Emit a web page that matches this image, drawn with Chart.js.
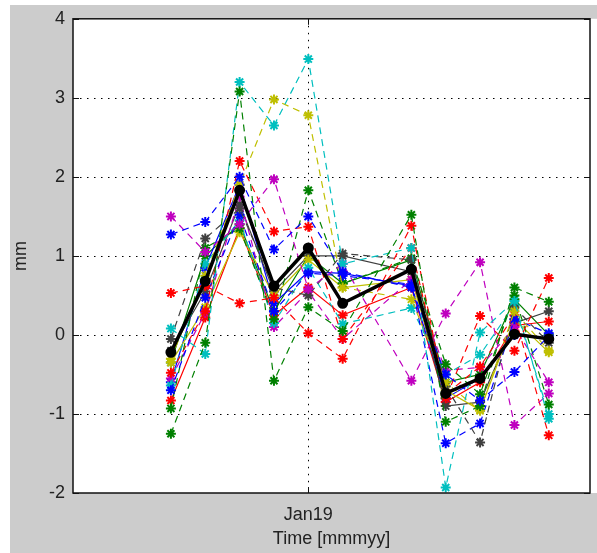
<!DOCTYPE html>
<html>
<head>
<meta charset="utf-8">
<title>mm vs time</title>
<script src="https://cdn.jsdelivr.net/npm/chart.js@4.4.1/dist/chart.umd.min.js"></script>
<style>
    body { margin: 0; background: #ffffff; }
    canvas { display: block; }
</style>
</head>
<body>
<canvas id="grafico" width="597" height="553"></canvas>
<script>
// months relative to Jan19 (one survey missing in between)
const meses = [-4, -3, -2, -1, 0, 1, 3, 4, 5, 6, 7];
const etiquetasX = { 0: 'Jan19' };
const ticksY = [-2, -1, 0, 1, 2, 3, 4];

// colour order of the old plotting tool
const colores = ['#0000ff', '#008000', '#ff0000', '#00bfbf', '#bf00bf', '#bfbf00', '#404040'];

const serie1  = [1.27, 1.43, 2.0, 1.08, 1.5, 0.8, 0.6, -0.5, -0.83, -0.47, -0.01];
const serie2  = [-1.25, -0.1, 3.08, -0.58, 0.35, 0.05, 1.52, -1.1, -0.9, 0.6, 0.42];
const serie3  = [0.53, 0.62, 0.4, 0.47, 0.02, -0.3, 1.38, -0.8, 0.24, -0.2, 0.72];
const serie4  = [0.08, -0.24, 3.2, 2.65, 3.49, 0.9, 1.1, -1.93, 0.03, 0.43, -1.06];
const serie5  = [1.5, 1.05, 1.4, 1.97, 0.58, 0.9, -0.58, 0.27, 0.92, -1.14, -0.74];
const serie6  = [-0.3, 0.75, 1.9, 2.98, 2.78, 0.6, 0.45, -0.6, -0.96, 0.3, -0.2];
const serie7  = [-0.05, 1.22, 1.6, 0.6, 0.5, 1.03, 0.95, -0.65, -1.36, 0.35, -0.1];
const serie8  = [-0.7, 0.47, 1.52, 0.3, 0.78, 0.75, 0.64, -1.37, -1.12, 0.2, 0.02];
const serie9  = [-0.93, 1.1, 1.35, 0.2, 1.83, 0.65, 0.97, -0.37, -0.75, 0.5, -0.88];
const serie10 = [-0.48, 0.3, 2.2, 1.31, 1.37, -0.05, 1.1, -0.75, -0.4, 0.25, -1.27];
const serie11 = [-0.64, 0.9, 1.45, 0.15, 0.85, 0.14, 0.34, -0.5, -0.25, 0.38, -1.0];
const serie12 = [-0.55, 0.28, 1.75, 0.1, 0.55, -0.05, 0.7, -0.45, -0.41, 0.1, -0.6];
const serie13 = [-0.35, 0.35, 1.3, 0.5, 0.95, 0.6, 0.7, -0.7, -0.95, 0.2, -0.22];
const serie14 = [-0.2, 0.55, 1.65, 0.55, 1.0, 1.0, 0.8, -0.9, -0.85, 0.15, 0.3];
const serie15 = [-0.6, 0.85, 1.9, 0.4, 0.8, 0.78, 0.62, -0.8, -0.55, 0.0, -0.05];
const serie16 = [-0.35, 1.0, 1.4, 0.3, 1.0, 0.65, 0.95, -0.6, -0.5, 0.45, 0.0];
const serie17 = [-0.83, 0.22, 1.35, 0.25, 0.6, 0.25, 0.6, -0.85, -0.6, 0.12, 0.17];
const promedio = [-0.22, 0.68, 1.83, 0.62, 1.1, 0.4, 0.83, -0.74, -0.55, 0.01, -0.05];

const series = [serie1, serie2, serie3, serie4, serie5, serie6, serie7, serie8, serie9,
                serie10, serie11, serie12, serie13, serie14, serie15, serie16, serie17];

document.addEventListener('DOMContentLoaded', function() {
    const ctx = document.getElementById('grafico').getContext('2d');

    const datasets = [];
    // black mean line on top
    datasets.push({
        data: meses.map((m, i) => ({ x: m, y: promedio[i] })),
        borderColor: '#000000',
        backgroundColor: '#000000',
        borderWidth: 3.5,
        pointStyle: 'circle',
        pointRadius: 4.5,
        pointBorderWidth: 2,
        order: 0
    });
    series.forEach(function(s, k) {
        const c = colores[k % colores.length];
        datasets.push({
            data: meses.map((m, i) => ({ x: m, y: s[i] })),
            borderColor: c,
            backgroundColor: c,
            borderWidth: 1.2,
            borderDash: k < 12 ? [7, 5] : [], // last ones drawn solid
            pointStyle: 'star',
            pointRadius: 5,
            pointBorderWidth: 2,
            order: 1
        });
    });

    // gray figure background, white axes, dotted grid, box with inner ticks
    const fondo = {
        id: 'fondo',
        beforeDraw(chart) {
            const c = chart.ctx;
            const a = chart.chartArea;
            c.save();
            c.fillStyle = '#ffffff';
            c.fillRect(0, 0, chart.width, chart.height);
            c.fillStyle = '#cccccc';
            c.fillRect(10, 5, chart.width - 10, chart.height - 5);
            c.fillStyle = '#ffffff';
            c.fillRect(a.left, a.top, chart.width - a.left, a.bottom - a.top);
            c.restore();
        },
        beforeDatasetsDraw(chart) {
            const c = chart.ctx;
            const a = chart.chartArea;
            const x = chart.scales.x;
            const y = chart.scales.y;
            c.save();
            c.strokeStyle = '#000000';
            c.lineWidth = 1;
            c.setLineDash([1.5, 5.5]);
            ticksY.forEach(function(v) {
                const py = Math.round(y.getPixelForValue(v)) + 0.5;
                if (py <= a.top + 1 || py >= a.bottom - 1) return;
                c.beginPath();
                c.moveTo(a.left, py);
                c.lineTo(a.right, py);
                c.stroke();
            });
            Object.keys(etiquetasX).forEach(function(v) {
                const px = Math.round(x.getPixelForValue(Number(v))) + 0.5;
                c.beginPath();
                c.moveTo(px, a.top);
                c.lineTo(px, a.bottom);
                c.stroke();
            });
            c.restore();
        },
        afterDraw(chart) {
            const c = chart.ctx;
            const a = chart.chartArea;
            const x = chart.scales.x;
            const y = chart.scales.y;
            c.save();
            c.strokeStyle = '#111111';
            c.lineWidth = 1.5;
            c.strokeRect(a.left, a.top, a.right - a.left, a.bottom - a.top);
            c.lineWidth = 1;
            c.beginPath();
            ticksY.forEach(function(v) {
                const py = Math.round(y.getPixelForValue(v)) + 0.5;
                c.moveTo(a.left, py); c.lineTo(a.left + 6, py);
                c.moveTo(a.right, py); c.lineTo(a.right - 6, py);
            });
            Object.keys(etiquetasX).forEach(function(v) {
                const px = Math.round(x.getPixelForValue(Number(v))) + 0.5;
                c.moveTo(px, a.bottom); c.lineTo(px, a.bottom - 6);
                c.moveTo(px, a.top); c.lineTo(px, a.top + 6);
            });
            c.stroke();
            c.restore();
        }
    };

    new Chart(ctx, {
        type: 'line',
        data: { datasets: datasets },
        plugins: [fondo],
        options: {
            responsive: false,
            animation: false,
            layout: { padding: { left: 0, right: 2, top: 16, bottom: 0 } },
            plugins: {
                legend: { display: false },
                tooltip: { enabled: false }
            },
            scales: {
                x: {
                    type: 'linear',
                    min: -6.85,
                    max: 8.2,
                    grid: { display: false, drawTicks: false },
                    border: { display: false },
                    afterBuildTicks: function(scale) {
                        scale.ticks = Object.keys(etiquetasX).map(v => ({ value: Number(v) }));
                    },
                    afterFit: function(scale) { scale.height = 60; },
                    ticks: {
                        color: '#222222',
                        font: { family: 'Liberation Sans', size: 18 },
                        padding: 11,
                        maxRotation: 0,
                        callback: function(v) { return etiquetasX[v] || ''; }
                    },
                    title: {
                        display: true,
                        text: 'Time [mmmyy]',
                        color: '#222222',
                        font: { family: 'Liberation Sans', size: 18 },
                        padding: { top: 0, bottom: 3 }
                    }
                },
                y: {
                    min: -2,
                    max: 4,
                    grid: { display: false, drawTicks: false },
                    border: { display: false },
                    afterFit: function(scale) { scale.width = 73; },
                    ticks: {
                        stepSize: 1,
                        color: '#222222',
                        font: { family: 'Liberation Sans', size: 18 },
                        padding: 8
                    },
                    title: {
                        display: true,
                        text: 'mm',
                        color: '#222222',
                        font: { family: 'Liberation Sans', size: 18 },
                        padding: { top: 10, bottom: 0 }
                    }
                }
            }
        }
    });
});
</script>
</body>
</html>
